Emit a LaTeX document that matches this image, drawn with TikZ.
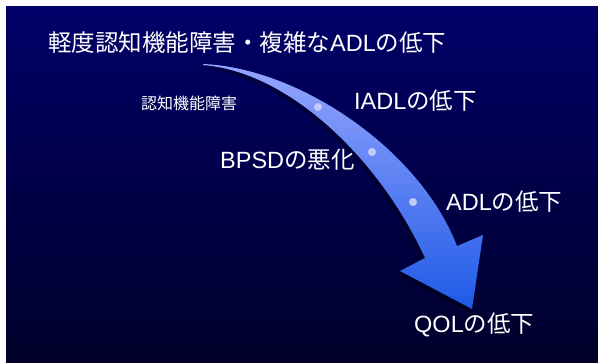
\documentclass[tikz,border=0pt]{standalone}
\usepackage{fontspec}
\newfontfamily\jp{Noto Sans CJK JP}
\newfontfamily\lat{Liberation Sans}
\definecolor{bgtop}{RGB}{0,0,104}
\definecolor{bgbot}{RGB}{0,0,42}
\definecolor{arrtop}{RGB}{150,165,255}
\definecolor{arrbot}{RGB}{30,90,230}
\definecolor{dotc}{RGB}{196,204,245}
\begin{document}
\begin{tikzpicture}[x=1pt,y=-1pt,
  lbl/.style={text=white, inner sep=0pt, anchor=west, font=\jp\fontsize{23.5}{26}\selectfont},
  smalllbl/.style={text=white, inner sep=0pt, anchor=west, font=\jp\fontsize{16}{18}\selectfont},
  dotball/.style={circle, inner sep=0pt, minimum size=8pt, fill=dotc}]
\useasboundingbox (0,0) rectangle (598,363);
\fill[white] (0,0) rectangle (598,363);
\shade[top color=bgtop, bottom color=bgbot] (6,7) rectangle (598,363);
% shadow
\fill[black, opacity=0.35, shift={(-3,3)}] (203,64) .. controls (300,68) and (420,150) .. (457,246) -- (483,235) -- (472,309) -- (400,271) -- (425,258) .. controls (380,160) and (290,72) .. (203,65) -- cycle;
% arrow
\shade[top color=arrtop, bottom color=arrbot] (203,64) .. controls (300,68) and (420,150) .. (457,246) -- (483,235) -- (472,309) -- (400,271) -- (425,258) .. controls (380,160) and (290,72) .. (203,65) -- cycle;
\node[dotball] (d1) at (318,107) {};
\node[dotball] (d2) at (372,152) {};
\node[dotball] (d3) at (413,202) {};
\node[lbl] (title) at (48,43) {軽度認知機能障害・複雑な{\lat ADL}の低下};
\node[smalllbl] (cog) at (141,103) {認知機能障害};
\node[lbl] (iadl) at (354,101) {{\lat IADL}の低下};
\node[lbl] (bpsd) at (220,160) {{\lat BPSD}の悪化};
\node[lbl] (adl) at (446,202) {{\lat ADL}の低下};
\node[lbl] (qol) at (414,325) {{\lat QOL}の低下};
\end{tikzpicture}
\end{document}
